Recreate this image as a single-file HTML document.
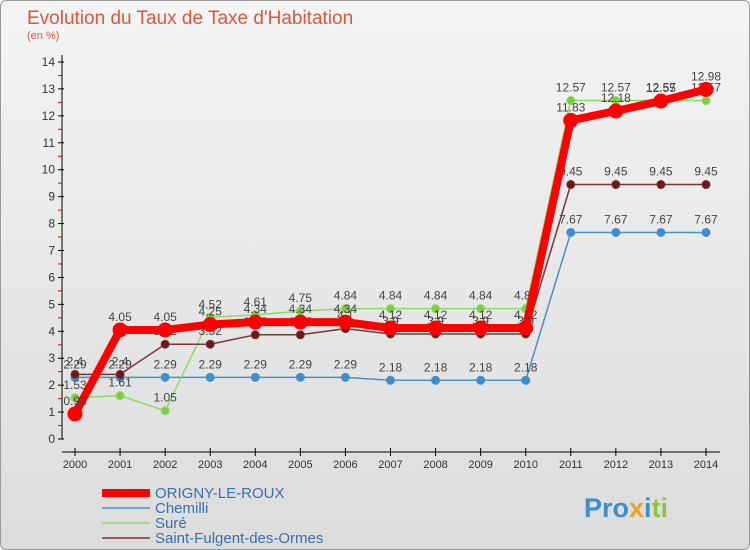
<!DOCTYPE html>
<html><head><meta charset="utf-8"><style>
body{margin:0;width:750px;height:550px;overflow:hidden;font-family:"Liberation Sans",sans-serif}
#wrap{position:relative;width:748px;height:548px;border:1px solid #999;border-radius:6px;background:linear-gradient(#f4f4f4,#dcdcdc);overflow:hidden}
</style></head><body>
<div id="wrap">
<svg id="chart" width="750" height="550" style="position:absolute;left:-1px;top:-1px">
<text x="27" y="24" font-size="19" fill="#e0553a">Evolution du Taux de Taxe d'Habitation</text>
<text x="27" y="39" font-size="11" fill="#e0553a">(en %)</text>
<g id="axes"></g><g id="series"></g><g id="legend"></g>
<text x="584" y="517" font-size="27" font-weight="bold"><tspan fill="#3a8fd0">Pro</tspan><tspan fill="#f0a020">x</tspan><tspan fill="#3a8fd0">i</tspan><tspan fill="#8cc63f">ti</tspan></text>
</svg></div>
<script>
const years=[2000,2001,2002,2003,2004,2005,2006,2007,2008,2009,2010,2011,2012,2013,2014];
const yTicks=[0,1,2,3,4,5,6,7,8,9,10,11,12,13,14];
const origny=[0.93,4.05,4.05,4.25,4.34,4.34,4.34,4.12,4.12,4.12,4.12,11.83,12.18,12.55,12.98];
const chemilli=[2.29,2.29,2.29,2.29,2.29,2.29,2.29,2.18,2.18,2.18,2.18,7.67,7.67,7.67,7.67];
const sure=[1.53,1.61,1.05,4.52,4.61,4.75,4.84,4.84,4.84,4.84,4.84,12.57,12.57,12.57,12.57];
const saint=[2.4,2.4,3.52,3.52,3.87,3.87,4.1,3.9,3.9,3.9,3.9,9.45,9.45,9.45,9.45];
const seriesNames=["ORIGNY-LE-ROUX","Chemilli","Suré","Saint-Fulgent-des-Ormes"];
const NS="http://www.w3.org/2000/svg";
const X=i=>75+i*(706-75)/(years.length-1);
const Y=v=>439-v*(439-62)/14;
function mk(t,a,p){const e=document.createElementNS(NS,t);for(const k in a)e.setAttribute(k,a[k]);p.appendChild(e);return e;}
const ax=document.getElementById('axes');
const yl=mk('line',{x1:62,y1:55,x2:62,y2:439,stroke:'#000'},ax);


const xl=mk('line',{x1:62,y1:452,x2:720,y2:452,stroke:'#000'},ax);


yTicks.forEach(v=>{
 mk('line',{x1:58,y1:Y(v),x2:64,y2:Y(v),stroke:'#000'},ax);
 if(v<14)mk('line',{x1:58,y1:Y(v+0.5),x2:62,y2:Y(v+0.5),stroke:'#e00'},ax);
 const t=mk('text',{x:55,y:Y(v)+4,'font-size':12,'text-anchor':'end',fill:'#333'},ax);t.textContent=v;
 
 
});
years.forEach((y,i)=>{
 mk('line',{x1:X(i),y1:448,x2:X(i),y2:456,stroke:'#000'},ax);
 const t=mk('text',{x:X(i),y:468,'font-size':11,'text-anchor':'middle',fill:'#333'},ax);t.textContent=y;
 
 
});
const sg=document.getElementById('series');
function draw(data,color,w,r,name,dot){
 const g=mk('g',{},sg);
 
 
 mk('polyline',{points:data.map((v,i)=>X(i)+','+Y(v)).join(' '),fill:'none',stroke:color,'stroke-width':w,'stroke-linejoin':'round'},g);
 data.forEach((v,i)=>{
  const c=mk('circle',{cx:X(i),cy:Y(v),r:r,fill:dot,stroke:color,'stroke-width':1},g);
  
  
  const t=mk('text',{x:X(i),y:Y(v)-9,'font-size':12,'text-anchor':'middle',fill:'#444'},g);t.textContent=String(v);
  
  
 });
}
draw(chemilli,'#4a90c8',1.5,4,'series-chemilli','#3a8fd0');
draw(sure,'#8ed96a',1.5,4,'series-sure','#7ccf3a');
draw(saint,'#7a3535',1.5,4,'series-saint-fulgent','#6a1a1a');
draw(origny,'#ff0000',8,7,'series-origny','#f00');
const lg=document.getElementById('legend');
const cols=['#f00','#4a90c8','#8ed96a','#7a3535'],ws=[8,1.5,1.5,1.5];
seriesNames.forEach((n,i)=>{
 const y=493+i*15;
 const g=mk('g',{},lg);
 
 
 mk('line',{x1:102,y1:y,x2:150,y2:y,stroke:cols[i],'stroke-width':ws[i]},g);
 const t=mk('text',{x:155,y:y+5,'font-size':15,fill:'#3a6fb0'},g);t.textContent=n;
});
</script>
</body></html>
